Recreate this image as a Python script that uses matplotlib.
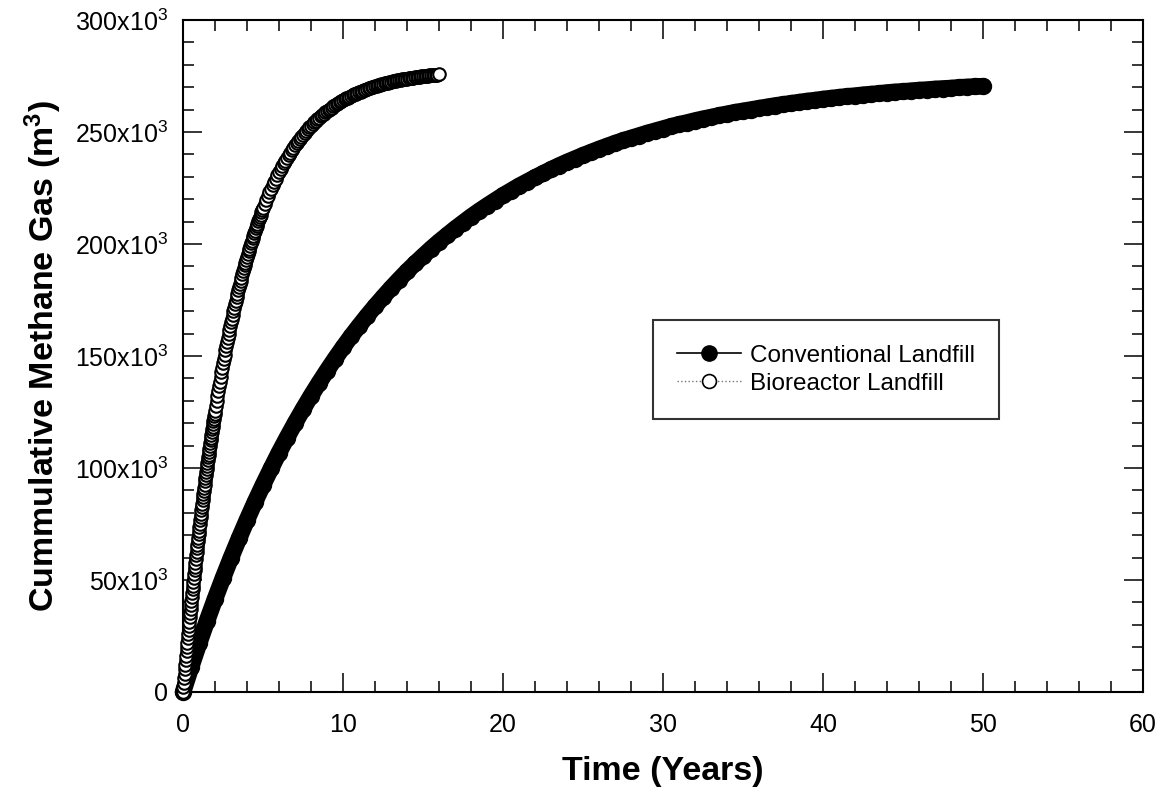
import numpy as np
import matplotlib
matplotlib.use("Agg")
import matplotlib.pyplot as plt
from matplotlib.lines import Line2D

plt.rcParams['font.family'] = ['Liberation Sans', 'DejaVu Sans']
plt.rcParams['mathtext.fontset'] = 'custom'
plt.rcParams['mathtext.rm'] = 'Liberation Sans'
plt.rcParams['mathtext.it'] = 'Liberation Sans:italic'
plt.rcParams['mathtext.bf'] = 'Liberation Sans:bold'

# ---------------- data (cumulative methane, thousands of m^3) ----------------
# Conventional landfill, sampled every 0.5 year from 0 to 50 years
conv_time = np.arange(0, 50.0001, 0.5)
conv_gas = [
    0.0, 11.1, 21.7, 31.8, 41.6, 51.0, 60.0, 68.6, 76.9, 84.9,
    92.5, 99.8, 106.9, 113.6, 120.1, 126.3, 132.3, 138.0, 143.5, 148.8,
    153.9, 158.8, 163.4, 167.9, 172.2, 176.3, 180.3, 184.1, 187.8, 191.3,
    194.6, 197.9, 201.0, 203.9, 206.8, 209.5, 212.2, 214.7, 217.1, 219.4,
    221.7, 223.8, 225.9, 227.8, 229.7, 231.5, 233.3, 235.0, 236.6, 238.1,
    239.6, 241.0, 242.4, 243.7, 245.0, 246.2, 247.3, 248.4, 249.5, 250.5,
    251.5, 252.5, 253.4, 254.2, 255.1, 255.9, 256.6, 257.4, 258.1, 258.8,
    259.4, 260.0, 260.6, 261.2, 261.8, 262.3, 262.8, 263.3, 263.8, 264.2,
    264.7, 265.1, 265.5, 265.9, 266.2, 266.6, 266.9, 267.2, 267.6, 267.9,
    268.1, 268.4, 268.7, 268.9, 269.2, 269.4, 269.6, 269.9, 270.1, 270.3,
    270.4,
]

# Bioreactor landfill: 0-2 yr every 0.025 yr, 2-5 yr every 0.05 yr, 5-16 yr every 0.1 yr
bio_time = np.round(np.concatenate([
    np.arange(0, 2.0 - 1e-9, 0.025),
    np.arange(2.0, 5.0 - 1e-9, 0.05),
    np.arange(5.0, 16.0001, 0.1),
]), 3)
bio_gas = [
    # 0 - 1.975 (step 0.025)
    0.00, 2.08, 4.14, 6.19, 8.22, 10.23, 12.23, 14.22, 16.19, 18.15,
    20.09, 22.01, 23.93, 25.83, 27.71, 29.58, 31.44, 33.28, 35.11, 36.92,
    38.72, 40.51, 42.29, 44.05, 45.80, 47.53, 49.25, 50.96, 52.66, 54.34,
    56.01, 57.67, 59.32, 60.95, 62.57, 64.18, 65.78, 67.37, 68.94, 70.50,
    72.05, 73.59, 75.12, 76.64, 78.14, 79.63, 81.12, 82.59, 84.05, 85.50,
    86.93, 88.36, 89.78, 91.19, 92.58, 93.97, 95.34, 96.71, 98.06, 99.41,
    100.74, 102.06, 103.38, 104.68, 105.98, 107.26, 108.54, 109.81, 111.06, 112.31,
    113.55, 114.78, 116.00, 117.21, 118.41, 119.60, 120.78, 121.96, 123.13, 124.28,
    # 2.0 - 4.95 (step 0.05)
    125.43, 127.70, 129.94, 132.14, 134.32, 136.45, 138.56, 140.64, 142.68, 144.70,
    146.68, 148.64, 150.56, 152.46, 154.33, 156.17, 157.98, 159.77, 161.53, 163.27,
    164.97, 166.66, 168.31, 169.95, 171.56, 173.14, 174.70, 176.24, 177.76, 179.25,
    180.72, 182.17, 183.59, 185.00, 186.38, 187.75, 189.09, 190.41, 191.72, 193.00,
    194.27, 195.52, 196.74, 197.95, 199.14, 200.32, 201.48, 202.61, 203.74, 204.84,
    205.93, 207.00, 208.06, 209.10, 210.13, 211.14, 212.13, 213.11, 214.08, 215.03,
    # 5.0 - 16.0 (step 0.1)
    215.97, 217.80, 219.58, 221.31, 222.98, 224.61, 226.19, 227.72, 229.21, 230.65,
    232.05, 233.41, 234.72, 236.00, 237.24, 238.45, 239.62, 240.75, 241.85, 242.92,
    243.96, 244.96, 245.94, 246.89, 247.81, 248.70, 249.56, 250.41, 251.22, 252.01,
    252.78, 253.53, 254.25, 254.95, 255.63, 256.29, 256.93, 257.56, 258.16, 258.75,
    259.32, 259.87, 260.40, 260.92, 261.43, 261.92, 262.39, 262.86, 263.30, 263.74,
    264.16, 264.57, 264.97, 265.35, 265.72, 266.09, 266.44, 266.78, 267.11, 267.43,
    267.75, 268.05, 268.34, 268.63, 268.91, 269.18, 269.44, 269.69, 269.94, 270.17,
    270.40, 270.63, 270.85, 271.06, 271.26, 271.46, 271.66, 271.84, 272.02, 272.20,
    272.37, 272.54, 272.70, 272.86, 273.01, 273.16, 273.30, 273.44, 273.57, 273.70,
    273.83, 273.95, 274.07, 274.19, 274.30, 274.41, 274.52, 274.62, 274.72, 274.82,
    274.91, 275.00, 275.09, 275.18, 275.26, 275.34, 275.42, 275.50, 275.57, 275.64,
    275.71,
]

x_ticks = [0, 10, 20, 30, 40, 50, 60]
y_ticks = [0, 50, 100, 150, 200, 250, 300]
y_tick_labels = ['0'] + [f'{v}x10$^{{3}}$' for v in y_ticks[1:]]

series_names = ['Conventional Landfill', 'Bioreactor Landfill']

# ---------------- figure ----------------
fig = plt.figure(figsize=(11.63, 8.05), dpi=100)
ax = fig.add_axes([0.1574, 0.1404, 0.8254, 0.8348])

# Conventional: dense filled circles forming a solid band
ax.plot(conv_time, conv_gas, '-', color='black', lw=12.0,
        solid_capstyle='round', solid_joinstyle='round', clip_on=False, zorder=3)
ax.plot(conv_time, conv_gas, 'o', color='black', ms=11.5, clip_on=False, zorder=3)

# Bioreactor: dense open circles
ax.plot(bio_time, bio_gas, ':', color='#888888', lw=0.8, clip_on=False, zorder=4)
ax.plot(bio_time, bio_gas, 'o', mfc='white', mec='black', ms=9.0, mew=1.5,
        clip_on=False, zorder=4)

ax.set_xlim(0, 60)
ax.set_ylim(0, 300)
ax.set_xticks(x_ticks)
ax.set_xticks(np.arange(0, 61, 2), minor=True)
ax.set_yticks(y_ticks)
ax.set_yticks(np.arange(0, 301, 10), minor=True)
ax.set_yticklabels(y_tick_labels)

ax.tick_params(which='both', direction='in', top=True, right=True, width=1.1,
               colors='black', labelsize=18)
ax.tick_params(which='major', length=13.5)
ax.tick_params(which='minor', length=8)
ax.tick_params(axis='x', pad=15)
ax.tick_params(axis='y', pad=11)
for sp in ax.spines.values():
    sp.set_linewidth(1.5)

ax.set_xlabel('Time (Years)', fontsize=24.5, fontweight='bold', labelpad=14)
ax.set_ylabel('Cummulative Methane Gas (m$^{\\mathbf{3}}$)', fontsize=24.5,
              fontweight='bold', labelpad=8)

handles = [
    Line2D([0], [0], color='black', lw=1.2, ls='-', marker='o', ms=11,
           mfc='black', mec='black'),
    Line2D([0], [0], color='#777777', lw=1.0, ls=':', marker='o', ms=10,
           mfc='white', mec='black', mew=1.2),
]
leg = ax.legend(handles, series_names, loc='lower left',
                bbox_to_anchor=(0.4896, 0.406), fontsize=17.5, frameon=True,
                fancybox=False, shadow=False, handlelength=2.6,
                borderpad=1.0, labelspacing=0.25, handletextpad=0.37,
                borderaxespad=0.0)
leg.get_frame().set_edgecolor('black')
leg.get_frame().set_linewidth(1.5)

fig.savefig('out.png', dpi=100)
